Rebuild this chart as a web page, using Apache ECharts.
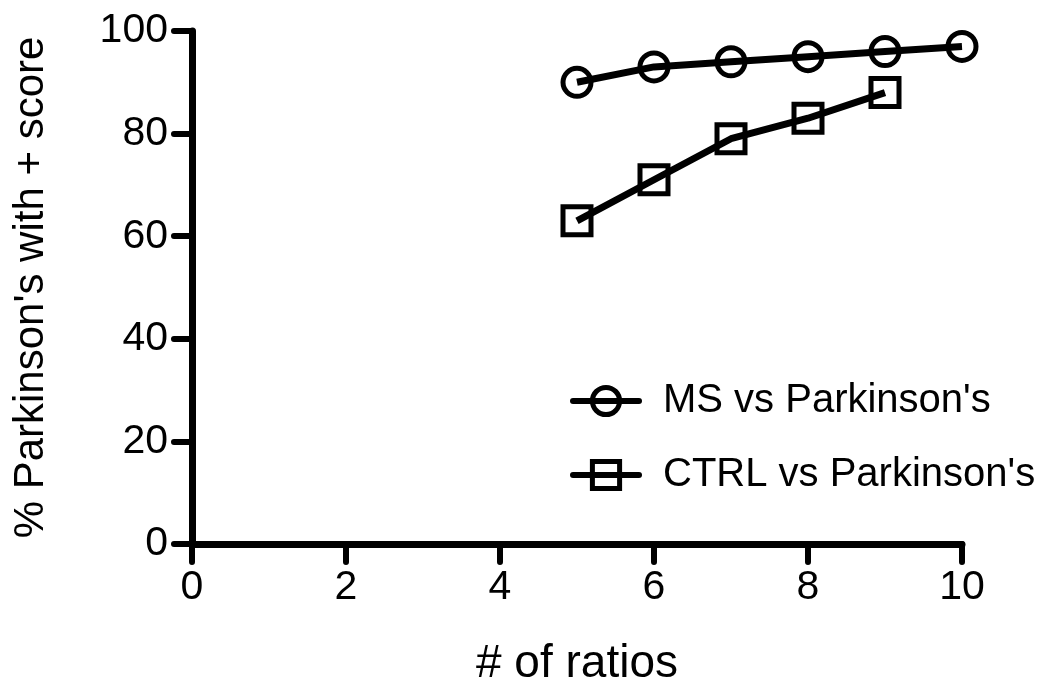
<!DOCTYPE html>
<html>
<head>
<meta charset="utf-8">
<script src="https://cdn.jsdelivr.net/npm/echarts@6/dist/echarts.min.js"></script>
<style>
html,body{margin:0;padding:0;background:#fff;}
#chart{width:1060px;height:688px;}
</style>
</head>
<body>
<div id="chart"></div>
<script>
const msX = [5, 6, 7, 8, 9, 10];
const msY = [90, 93, 94, 95, 96, 97];
const ctrlX = [5, 6, 7, 8, 9];
const ctrlY = [63, 71, 79, 83, 88];
const seriesNames = ["MS vs Parkinson's", "CTRL vs Parkinson's"];
const xTitle = "# of ratios";
const yTitle = "% Parkinson's with + score";

const font = "'Liberation Sans', Arial, sans-serif";
const chart = echarts.init(document.getElementById('chart'), null, {renderer: 'canvas'});
const pairs = (xs, ys) => xs.map((x, i) => [x, ys[i]]);

const axisCommon = {
  type: 'value',
  axisLine: {show: true, onZero: false, lineStyle: {color: '#000', width: 7, cap: 'round'}},
  axisTick: {show: true, inside: false, length: 18, lineStyle: {color: '#000', width: 6, cap: 'round'}},
  axisLabel: {color: '#000', fontSize: 41, fontFamily: font},
  splitLine: {show: false},
  nameLocation: 'middle'
};

chart.setOption({
  animation: false,
  backgroundColor: '#fff',
  grid: {left: 192, right: 98, top: 31, bottom: 144, containLabel: false, outerBoundsMode: 'none'},
  xAxis: Object.assign({}, axisCommon, {
    min: 0, max: 10, interval: 2, name: xTitle, nameGap: 97,
    axisLabel: {color: '#000', fontSize: 41, fontFamily: font, margin: 23},
    nameTextStyle: {color: '#000', fontSize: 46, fontFamily: font}
  }),
  yAxis: Object.assign({}, axisCommon, {
    min: 0, max: 100, interval: 20, name: yTitle, nameGap: 140,
    axisLabel: {color: '#000', fontSize: 41, fontFamily: font, margin: 24},
    nameTextStyle: {color: '#000', fontSize: 42, fontFamily: font}
  }),
  legend: {
    orient: 'vertical', left: 565, top: 376, itemWidth: 66, itemHeight: 34, itemGap: 34,
    lineStyle: {color: '#000', width: 6, cap: 'round'},
    itemStyle: {borderColor: '#000', borderWidth: 5},
    textStyle: {color: '#000', fontSize: 40, fontFamily: font, padding: [0, 0, 0, 19]},
    data: seriesNames
  },
  series: [
    {
      name: seriesNames[0], type: 'line', data: pairs(msX, msY),
      symbol: 'circle', symbolSize: 28,
      itemStyle: {color: 'rgba(255,255,255,0)', borderColor: '#000', borderWidth: 5},
      lineStyle: {color: '#000', width: 7}
    },
    {
      name: seriesNames[1], type: 'line', data: pairs(ctrlX, ctrlY),
      symbol: 'rect', symbolSize: 28,
      itemStyle: {color: 'rgba(255,255,255,0)', borderColor: '#000', borderWidth: 5},
      lineStyle: {color: '#000', width: 7}
    }
  ]
});
</script>
</body>
</html>
